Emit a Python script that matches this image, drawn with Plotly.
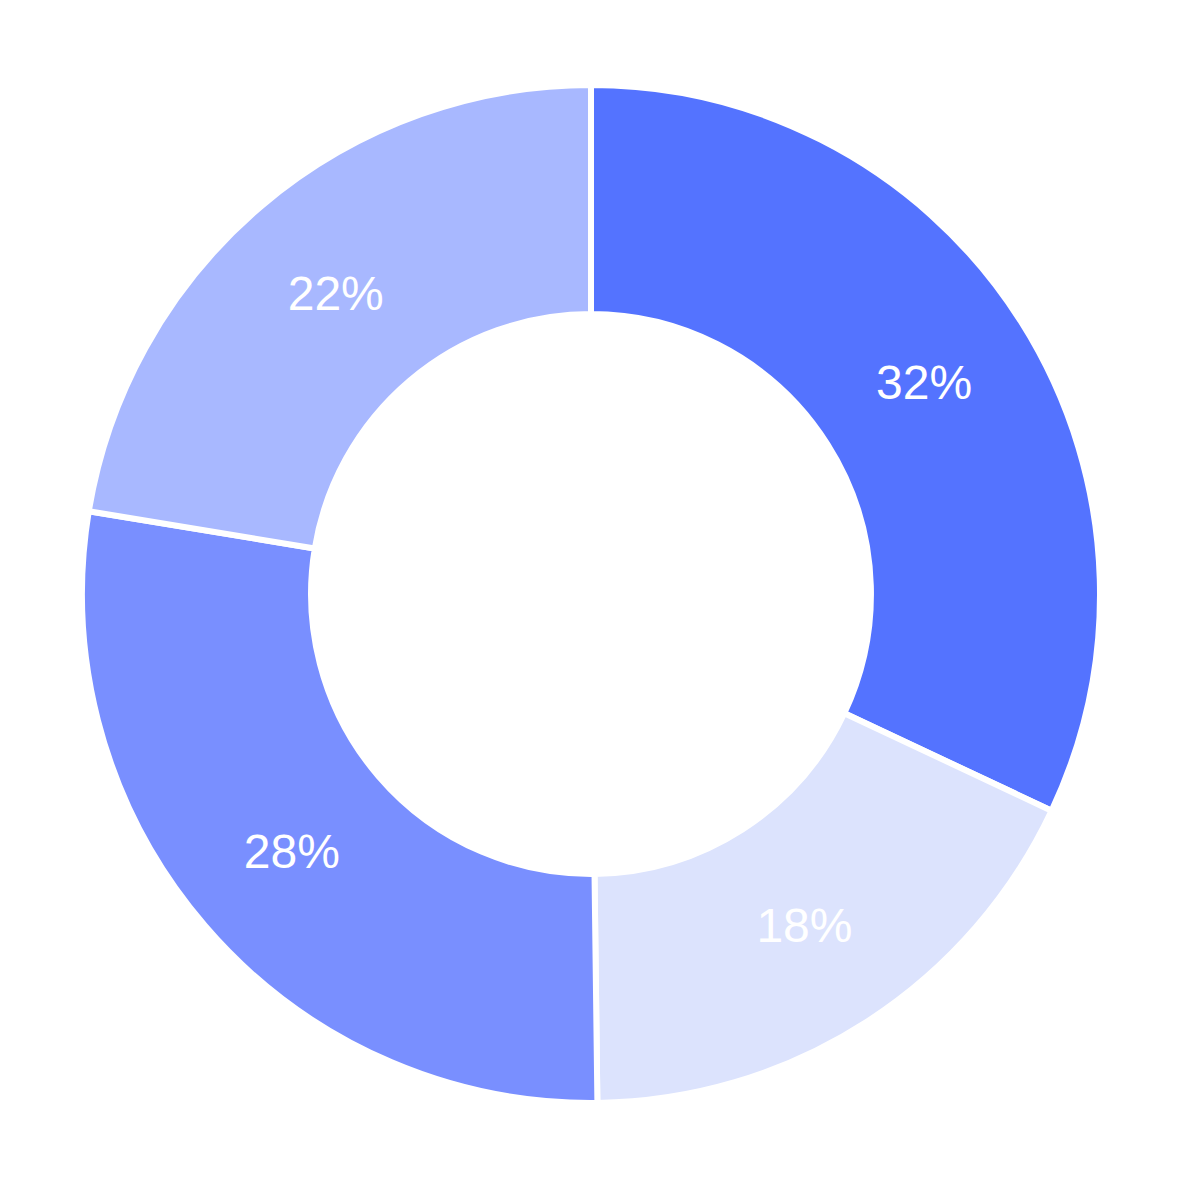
import plotly.graph_objects as go

labels = ["A", "B", "C", "D"]
values = [32.0, 17.8, 27.8, 22.4]
colors = ["#5473FF", "#DCE3FD", "#798FFF", "#A8B8FF"]

fig = go.Figure(go.Pie(
    labels=labels,
    values=values,
    hole=0.55,
    sort=False,
    direction="clockwise",
    rotation=0,
    marker=dict(colors=colors, line=dict(color="white", width=6)),
    textinfo="percent",
    texttemplate="%{percent:.0%}",
    textposition="inside",
    insidetextorientation="horizontal",
    textfont=dict(family="Liberation Sans, Arial, sans-serif", size=48, color="white"),
    showlegend=False,
))
fig.update_layout(
    width=1183, height=1181,
    margin=dict(l=74, r=91, t=77, b=86),
    paper_bgcolor="white",
    plot_bgcolor="white",
)
fig.write_html("out.html")
